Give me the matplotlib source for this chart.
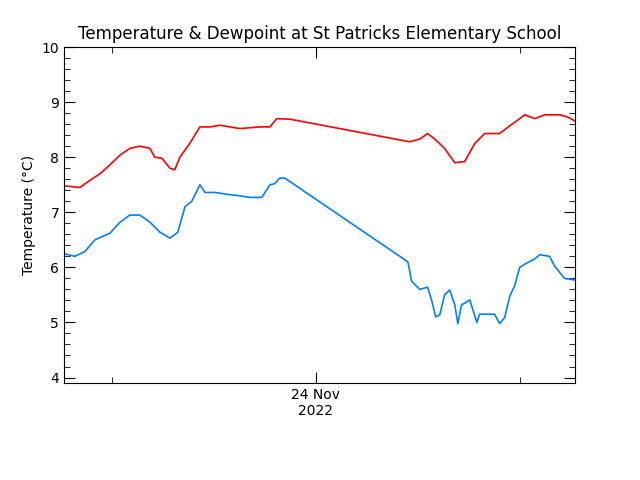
import matplotlib
matplotlib.use("Agg")
import matplotlib.pyplot as plt
from matplotlib.ticker import MultipleLocator

# hours relative to 00:00 24 Nov 2022
t_temp = [-7.41,-6.94,-6.65,-6.35,-6.06,-5.76,-5.47,-5.18,-4.88,-4.74,-4.53,-4.29,-4.15,-4.0,-3.71,-3.41,-3.12,-2.82,-2.24,-1.65,-1.35,-1.15,-0.76,2.76,3.06,3.29,3.5,3.79,4.09,4.38,4.68,4.97,5.41,5.71,6.0,6.15,6.44,6.74,7.18,7.41,7.62]
temp   = [7.48,7.45,7.58,7.7,7.86,8.04,8.16,8.2,8.16,8.0,7.98,7.8,7.77,8.0,8.25,8.55,8.55,8.58,8.52,8.55,8.55,8.7,8.69,8.28,8.33,8.43,8.33,8.16,7.9,7.92,8.25,8.43,8.43,8.57,8.7,8.77,8.7,8.77,8.77,8.73,8.66]
t_dew = [-7.41,-7.09,-6.79,-6.5,-6.06,-5.76,-5.47,-5.18,-4.88,-4.59,-4.29,-4.06,-3.85,-3.65,-3.41,-3.26,-2.97,-2.53,-2.24,-1.94,-1.59,-1.35,-1.21,-1.06,-0.91,2.71,2.82,3.06,3.29,3.41,3.53,3.65,3.79,3.94,4.09,4.18,4.29,4.41,4.53,4.65,4.74,4.82,5.12,5.26,5.41,5.56,5.71,5.85,6.0,6.24,6.44,6.59,6.88,7.03,7.32,7.62]
dew   = [6.25,6.2,6.29,6.5,6.62,6.82,6.95,6.95,6.82,6.64,6.53,6.64,7.1,7.2,7.5,7.36,7.36,7.32,7.3,7.27,7.27,7.5,7.52,7.62,7.62,6.1,5.75,5.6,5.64,5.4,5.1,5.14,5.5,5.59,5.32,4.98,5.32,5.36,5.41,5.18,5.0,5.15,5.15,5.15,4.98,5.09,5.48,5.66,6.0,6.09,6.15,6.23,6.2,6.02,5.8,5.77]

fig = plt.figure(figsize=(6.4,4.8), dpi=100)
ax = fig.add_axes([0.1,0.202,0.798,0.7])
ax.plot(t_temp, temp, color="#ff0000", lw=1.2)
ax.plot(t_dew, dew, color="#0080ff", lw=1.2)
ax.set_xlim(-7.41, 7.62)
ax.set_ylim(3.9, 10)
ax.set_yticks([4,5,6,7,8,9,10])
ax.yaxis.set_minor_locator(MultipleLocator(0.2))
ax.set_xticks([0])
ax.set_xticklabels(["24 Nov\n2022"])
ax.set_xticks([-6,6], minor=True)
ax.tick_params(which="both", direction="in", top=True, right=True, labelsize=10)
ax.tick_params(which="major", length=8)
ax.tick_params(which="minor", length=4)
ax.set_ylabel("Temperature (°C)", fontsize=10)
ax.set_title("Temperature & Dewpoint at St Patricks Elementary School", fontsize=12)
fig.savefig("out.png", dpi=100)
